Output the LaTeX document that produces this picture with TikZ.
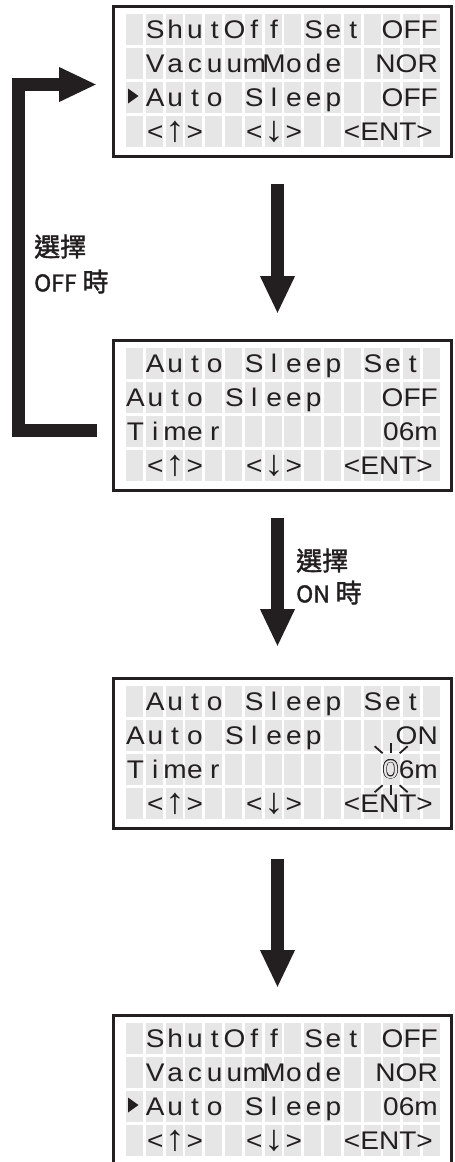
\documentclass[tikz,border=0pt]{standalone}
\usepackage{fontspec}
\setmainfont{Liberation Sans}
\newfontfamily\lcdfam[FakeStretch=1.1]{Liberation Sans}
\newfontfamily\cjkfont[FakeBold=1.5]{Noto Sans CJK TC}
\usetikzlibrary{arrows.meta,calc}
\definecolor{ink}{HTML}{231F20}
\definecolor{cellgray}{HTML}{E6E6E7}
\newcommand\lcdfont{\lcdfam\fontsize{25.5}{25.5}\selectfont}
\newcommand\arr[1]{{\fontsize{36}{36}\selectfont\raisebox{-1.5pt}{#1}}}
\tikzset{
  lcdbox/.style={draw=ink, line width=3pt, minimum width=338pt, minimum height=150pt, inner sep=0pt},
  lcdch/.style={anchor=base, inner sep=0pt, text=ink, font=\lcdfont},
  lcdr/.style={anchor=base east, inner sep=0pt, text=ink, font=\lcdfont},
  bigarrow/.style={draw=ink, line width=13pt, line join=miter, -{Triangle[width=32pt,length=38pt]}},
  ray/.style={draw=ink, line width=1.8pt},
  lab/.style={text=ink, align=left, inner sep=0pt, anchor=west},
}
\newcommand\lc[3]{\node[lcdch] (\curbox-#2-#1) at ({135.5+19.8*(#1-1)},{33+34*(#2-1)}) {#3};}
\newcommand\lr[3]{\node[lcdr] (\curbox-#1-r) at (#2,{33+34*(#1-1)}) {#3};}
\newcommand\lcdframe{%
  \foreach \c in {0,...,15}{\foreach \r in {0,...,3}{\fill[cellgray] ({126+19.8*\c},{9+34*\r}) rectangle ++(17,31);}}%
  \node[lcdbox] (\curbox) at (282.5,76.5) {};}
\newcommand\footrow{%
  \lc{2}{4}{<}\lc{3}{4}{\arr{↑}}\lc{4}{4}{>}\lc{7}{4}{<}\lc{8}{4}{\arr{↓}}\lc{9}{4}{>}\lr{4}{433}{<ENT>}}
\newcommand\menurows[1]{%
  \lc{2}{1}{S}\lc{3}{1}{h}\lc{4}{1}{u}\lc{5}{1}{t}\lc{6}{1}{O}\lc{7}{1}{f}\lc{8}{1}{f}\lc{10}{1}{S}\lc{11}{1}{e}\lc{12}{1}{t}\lr{1}{438}{OFF}%
  \lc{2}{2}{V}\lc{3}{2}{a}\lc{4}{2}{c}\lc{5}{2}{u}\lc{6}{2}{u}\lc{7}{2}{m}\lc{8}{2}{M}\lc{9}{2}{o}\lc{10}{2}{d}\lc{11}{2}{e}\lr{2}{438}{NOR}%
  \fill[ink] (128,83.5) -- (138.5,91) -- (128,98.5) -- cycle;
  \lc{2}{3}{A}\lc{3}{3}{u}\lc{4}{3}{t}\lc{5}{3}{o}\lc{7}{3}{S}\lc{8}{3}{l}\lc{9}{3}{e}\lc{10}{3}{e}\lc{11}{3}{p}\lr{3}{438}{#1}%
  \footrow}
\newcommand\sleeprows[1]{%
  \lc{2}{1}{A}\lc{3}{1}{u}\lc{4}{1}{t}\lc{5}{1}{o}\lc{7}{1}{S}\lc{8}{1}{l}\lc{9}{1}{e}\lc{10}{1}{e}\lc{11}{1}{p}\lc{13}{1}{S}\lc{14}{1}{e}\lc{15}{1}{t}%
  \lc{1}{2}{A}\lc{2}{2}{u}\lc{3}{2}{t}\lc{4}{2}{o}\lc{6}{2}{S}\lc{7}{2}{l}\lc{8}{2}{e}\lc{9}{2}{e}\lc{10}{2}{p}\lr{2}{438}{#1}%
  \lc{1}{3}{T}\lc{2}{3}{i}\lc{3}{3}{m}\lc{4}{3}{e}\lc{5}{3}{r}%
  \footrow}
\begin{document}
\begin{tikzpicture}[x=1pt,y=-1pt]
\useasboundingbox (0,0) rectangle (455,1162);
\fill[white] (0,0) rectangle (455,1162);
% box 1
\def\curbox{b1}
\begin{scope}[shift={(0,5)}]
  \lcdframe
  \menurows{OFF}
\end{scope}
% box 2
\def\curbox{b2}
\begin{scope}[shift={(0,339)}]
  \lcdframe
  \sleeprows{OFF}
  \lr{3}{438}{06m}
\end{scope}
% box 3
\def\curbox{b3}
\begin{scope}[shift={(0,677)}]
  \lcdframe
  \sleeprows{ON}
  \node[lcdr] (b3-3-r) at (438,101) {6m};
  \coordinate (z0) at (b3-3-r.base west);
  \foreach \a in {0,30,...,330}{\node[lcdr] at ($(z0)+(\a:0.6pt)$) {0};}
  \node[lcdr, text=cellgray] (b3-zero) at (z0) {0};
\end{scope}
\draw[ray] ([shift={(-16,-23)}]b3-zero.center) -- ([shift={(-8,-16)}]b3-zero.center);
\draw[ray] ([shift={(0,-26)}]b3-zero.center) -- ([shift={(0,-16)}]b3-zero.center);
\draw[ray] ([shift={(9,-16)}]b3-zero.center) -- ([shift={(17,-23)}]b3-zero.center);
\draw[ray] ([shift={(-8,16)}]b3-zero.center) -- ([shift={(-16,23)}]b3-zero.center);
\draw[ray] ([shift={(0,16)}]b3-zero.center) -- ([shift={(0,26)}]b3-zero.center);
\draw[ray] ([shift={(9,16)}]b3-zero.center) -- ([shift={(17,23)}]b3-zero.center);
% box 4
\def\curbox{b4}
\begin{scope}[shift={(0,1014)}]
  \lcdframe
  \menurows{06m}
\end{scope}
% arrows
\draw[bigarrow] ([xshift=-5pt,yshift=-26pt]b1.south) -- ([xshift=-5pt,yshift=25pt]b2.north);
\draw[bigarrow] ([xshift=-5pt,yshift=-26pt]b2.south) -- ([xshift=-5pt,yshift=30pt]b3.north);
\draw[bigarrow] ([xshift=-5pt,yshift=-29pt]b3.south) -- ([xshift=-5pt,yshift=26pt]b4.north);
\coordinate (loopA) at (97,430);
\coordinate (loopB) at (97,84.5);
\draw[bigarrow] (loopA) -- (18.5,430) -- (18.5,84.5) -- (loopB);
% labels
\node[lab, font=\cjkfont\fontsize{26}{35}\selectfont] (labOff) at (34,264) {選擇\\{\fontsize{23}{35}\selectfont OFF} 時};
\node[lab, font=\cjkfont\fontsize{26}{32}\selectfont] (labOn) at (296,576.5) {選擇\\{\fontsize{23}{32}\selectfont ON} 時};
\end{tikzpicture}
\end{document}
